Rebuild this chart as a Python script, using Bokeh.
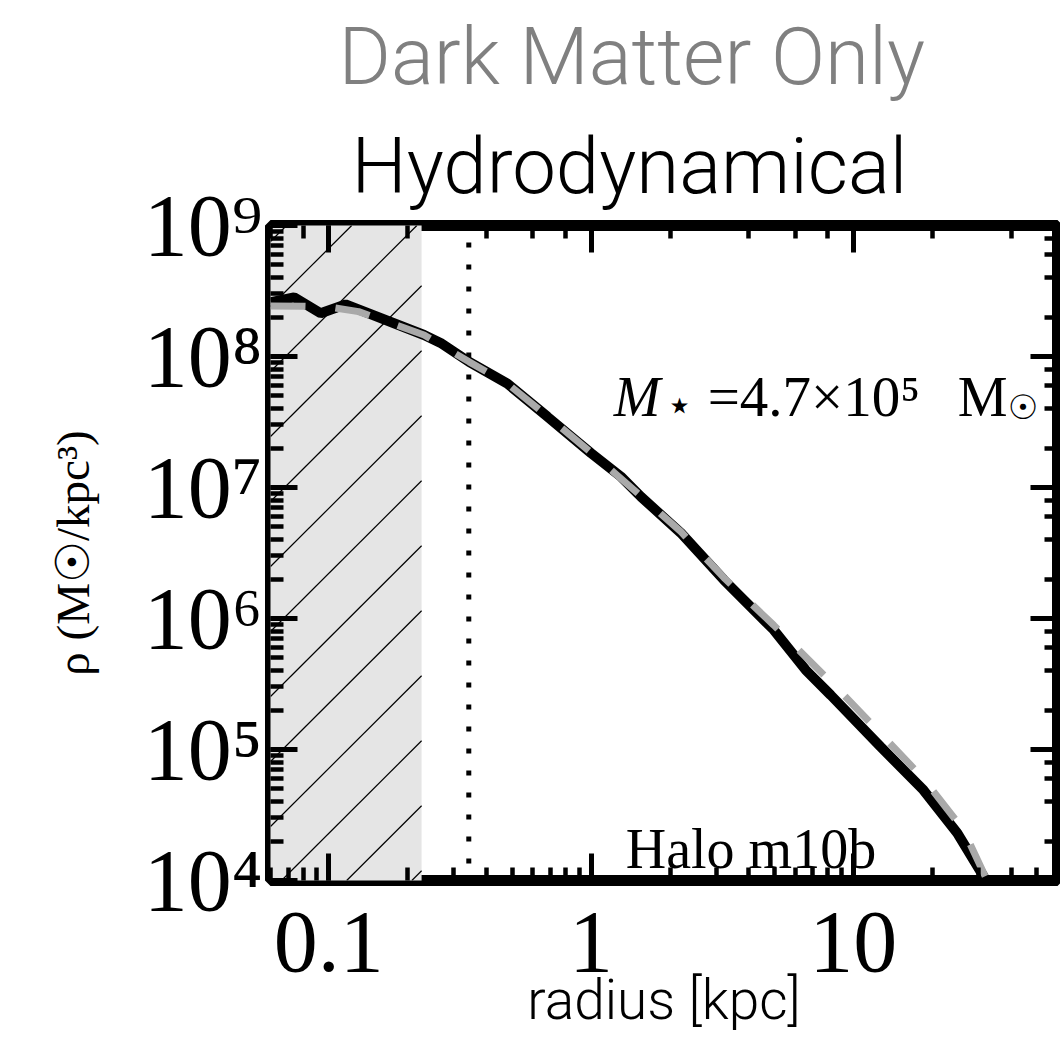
import numpy as np
from bokeh.plotting import figure
from bokeh.models import LogAxis, LogTicker, Span, Label, Title, CustomJSTickFormatter, Range1d
from bokeh.embed import file_html
from bokeh.resources import INLINE

# ---- density profiles of halo m10b (radius in kpc, density in Msun/kpc^3) ----
r_hydro = [0.06, 0.0738, 0.0932, 0.116, 0.231, 0.267, 0.343, 0.48, 0.682, 1.0,
           1.30, 1.55, 2.2, 3.21, 4.97, 6.58, 8.2, 12.7, 18.5, 24.9, 31.4, 33.1]
rho_hydro = [2.6e8, 2.83e8, 2.14e8, 2.5e8, 1.46e8, 1.27e8, 9.1e7, 6.2e7, 3.47e7, 1.83e7,
             1.21e7, 8.5e6, 4.5e6, 1.97e6, 8.2e5, 4.05e5, 2.6e5, 1.05e5, 4.9e4, 2.3e4, 1.07e4, 8.9e3]

r_dmo = [0.06, 0.08, 0.1, 0.13, 0.231, 0.343, 0.48, 0.682, 1.0, 1.55, 2.2, 3.21,
         4.97, 8.69, 12.5, 18.5, 26.3, 32.0, 33.5]
rho_dmo = [2.43e8, 2.42e8, 2.39e8, 2.2e8, 1.46e8, 9.1e7, 6.2e7, 3.5e7, 1.85e7, 8.6e6, 4.6e6, 2.05e6,
           8.9e5, 2.93e5, 1.37e5, 6.0e4, 2.43e4, 1.05e4, 7.5e3]

# axis limits
x_lo, x_hi = 0.06, 60.0
y_lo, y_hi = 1e4, 1e9

# convergence radius (hatched) and force-softening marker (dotted)
r_converge = 0.226
r_dotted = 0.342

stellar_mass_text = ("=4.7×10⁵", "M")
halo_name = "Halo m10b"

SERIF = "Liberation Serif"
SANS = "Roboto Light, Roboto, sans-serif"

FRAME_W, FRAME_H = 785, 655

p = figure(width=1060, height=1037, x_axis_type="log", y_axis_type="log",
           x_range=Range1d(x_lo, x_hi), y_range=Range1d(y_lo, y_hi),
           output_backend="svg", toolbar_location=None,
           min_border_left=270, min_border_right=3, min_border_top=225, min_border_bottom=157)

bottom_axis = p.below[0]
left_axis = p.left[0]

p.grid.visible = False
p.background_fill_color = "white"
p.border_fill_color = "white"
p.outline_line_color = "black"
p.outline_line_width = 11

# shaded inner region
p.quad(left=[x_lo * 0.5], right=[r_converge], bottom=[y_lo * 0.1], top=[y_hi * 10],
       fill_color="#e5e5e5", line_color=None)

# 45-degree hatching of the shaded region: straight lines in screen space,
# i.e. log(y) = slope * log(x) + c with slope = (px per x-decade) / (px per y-decade)
lx0, lx1, lx_hi = np.log10(x_lo), np.log10(r_converge), np.log10(x_hi)
ly0, ly1 = np.log10(y_lo), np.log10(y_hi)
ppx = FRAME_W / (lx_hi - lx0)
ppy = FRAME_H / (ly1 - ly0)
slope = ppx / ppy
hatch_gap = 65      # horizontal spacing between hatch lines, px
hatch_phase = 81    # where a line meets the top edge, px from the left edge
c0 = ly1 - slope * (lx0 + hatch_phase / ppx)
hx0, hy0, hx1, hy1 = [], [], [], []
for k in range(-4, 20):
    c = c0 - k * hatch_gap / ppy
    xa = max(lx0, (ly0 - c) / slope)
    xb = min(lx1, (ly1 - c) / slope)
    if xa < xb:
        hx0.append(10 ** xa); hy0.append(10 ** (slope * xa + c))
        hx1.append(10 ** xb); hy1.append(10 ** (slope * xb + c))
p.segment(hx0, hy0, hx1, hy1, line_color="black", line_width=1.2)

p.add_layout(Span(location=r_dotted, dimension="height", line_color="black",
                  line_width=5, line_dash="5 17", line_dash_offset=5, level="underlay"))

p.line(r_hydro, rho_hydro, line_color="black", line_width=10)
p.line(r_dmo, rho_dmo, line_color="#a9a9a9", line_width=7, line_dash="35 30")

bottom_axis.formatter = CustomJSTickFormatter(code="return String(Number(tick.toPrecision(3)));")
left_axis.formatter = CustomJSTickFormatter(code="""
const sup = {'0':'\u2070','1':'\u00b9','2':'\u00b2','3':'\u00b3','4':'\u2074','5':'\u2075',
             '6':'\u2076','7':'\u2077','8':'\u2078','9':'\u2079','-':'\u207b'};
const e = Math.round(Math.log10(tick));
return '10' + String(e).split('').map(c => sup[c]).join('');
""")

top_axis = LogAxis(ticker=LogTicker())
right_axis = LogAxis(ticker=LogTicker())
p.add_layout(top_axis, "above")
p.add_layout(right_axis, "right")

for ax in [bottom_axis, left_axis, top_axis, right_axis]:
    ax.axis_line_color = None
    ax.major_tick_in = 27
    ax.major_tick_out = 0
    ax.minor_tick_in = 13
    ax.minor_tick_out = 0
    ax.major_tick_line_width = 5
    ax.minor_tick_line_width = 4.5
    ax.major_tick_line_color = "black"
    ax.minor_tick_line_color = "black"

for ax in [top_axis, right_axis]:
    ax.major_label_text_font_size = "0px"
    ax.major_label_standoff = 0
    ax.major_label_text_color = None

for ax in [bottom_axis, left_axis]:
    ax.major_label_text_font = SERIF
    ax.major_label_text_font_size = "88px"
    ax.major_label_text_color = "black"

bottom_axis.major_label_standoff = 32
left_axis.major_label_standoff = 8

bottom_axis.axis_label = "radius [kpc]"
bottom_axis.axis_label_text_font = SANS
bottom_axis.axis_label_text_font_size = "55px"
bottom_axis.axis_label_text_font_style = "normal"
bottom_axis.axis_label_text_color = "black"
bottom_axis.axis_label_standoff = -6

left_axis.axis_label = "ρ (M☉/kpc³)"
left_axis.axis_label_text_font = SERIF
left_axis.axis_label_text_font_size = "47px"
left_axis.axis_label_text_font_style = "normal"
left_axis.axis_label_text_color = "black"
left_axis.axis_label_standoff = 42

# titles stacked above the panel (first added sits closest to the frame)
p.add_layout(Title(text="Hydrodynamical", align="left", offset=81, standoff=27,
                   text_font=SANS, text_font_size="78px", text_font_style="normal",
                   text_color="black"), "above")
p.add_layout(Title(text="Dark Matter Only", align="left", offset=68, standoff=4,
                   text_font=SANS, text_font_size="80px", text_font_style="normal",
                   text_color="#808080"), "above")

# stellar mass annotation
mx, my = 1.22, 4.91e7
common = dict(x=mx, y=my, text_baseline="alphabetic", text_color="black")
p.add_layout(Label(text="M", text_font=SERIF, text_font_style="italic",
                   text_font_size="56px", **common))
p.add_layout(Label(x_offset=52, y_offset=-8, text="⋆", text_font="DejaVu Sans",
                   text_font_size="44px", **common))
p.add_layout(Label(x_offset=94, text=stellar_mass_text[0], text_font=SERIF,
                   text_font_size="57px", **common))
p.add_layout(Label(x_offset=344, text=stellar_mass_text[1], text_font=SERIF,
                   text_font_size="56px", **common))
p.add_layout(Label(x_offset=394, y_offset=-10, text="☉", text_font="DejaVu Sans",
                   text_font_size="34px", **common))

p.add_layout(Label(x=1.356, y=1.74e4, text=halo_name, text_font=SERIF, text_baseline="alphabetic",
                   text_font_size="56px", text_color="black"))

open("out.html", "w").write(file_html(p, INLINE))
